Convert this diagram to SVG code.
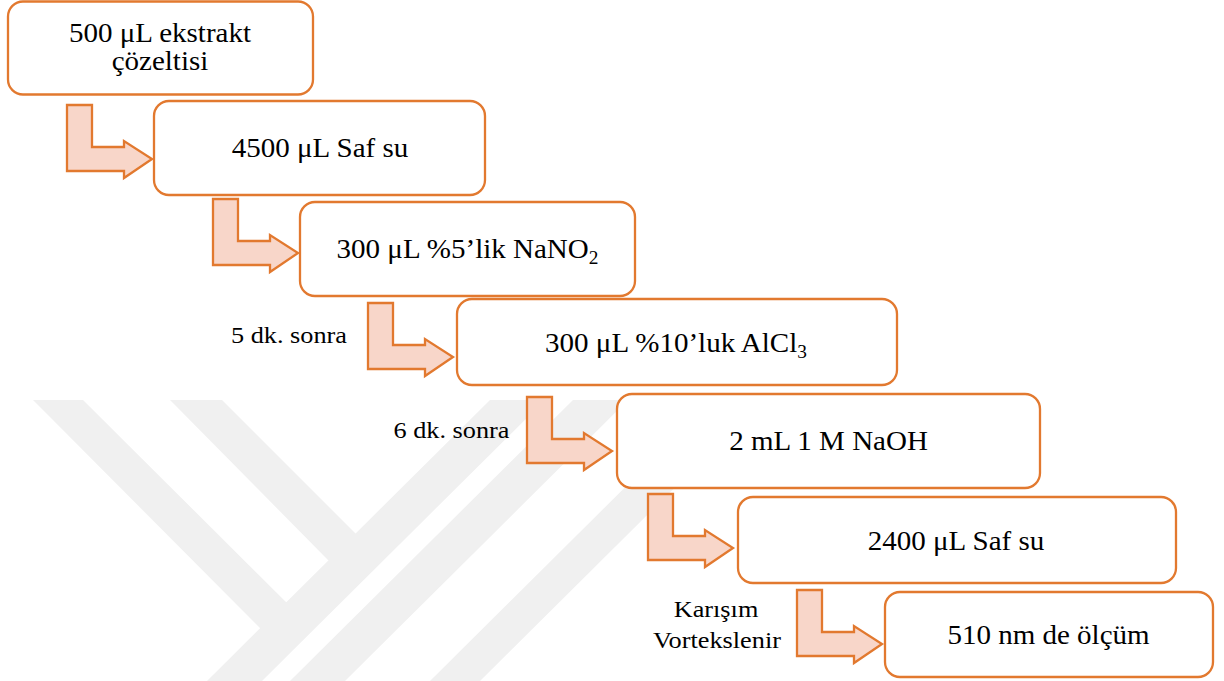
<svg xmlns="http://www.w3.org/2000/svg" width="1224" height="681" viewBox="0 0 1224 681">
  <style>
    .wm { fill: #f0f0f0; stroke: none; }
    .box { fill: #ffffff; stroke: #e2792f; stroke-width: 2.3; }
    .arrow { fill: #f8d6c9; stroke: #e2792f; stroke-width: 2.3; }
    .t { font-family: 'Liberation Serif', 'Times New Roman', serif; font-size: 27px; fill: #000000; text-anchor: middle; }
    .lbl { font-family: 'Liberation Serif', 'Times New Roman', serif; font-size: 24px; fill: #000000; text-anchor: middle; }
    .sub { font-size: 18px; }
  </style>
  <defs>
    <path id="bent" d="M0,0 H25 V42 H57 V36 L85,54 L57,73 V66 H0 Z"/>
  </defs>
  <rect x="0" y="0" width="1224" height="681" fill="#ffffff"/>

  <g id="watermark">
    <polygon class="wm" points="33,400 83,400 290,606 262,630"/>
    <polygon class="wm" points="170,400 222,400 360,538 330,562"/>
    <polygon class="wm" points="207,681 490,400 545,400 262,681"/>
    <polygon class="wm" points="290,681 573,400 628,400 345,681"/>
    <polygon class="wm" points="430,681 713,400 763,400 480,681"/>
  </g>

  <g id="connectors">
    <use href="#bent" class="arrow" transform="translate(67,105)"/>
    <use href="#bent" class="arrow" transform="translate(213,199)"/>
    <use href="#bent" class="arrow" transform="translate(368,303)"/>
    <use href="#bent" class="arrow" transform="translate(527,397)"/>
    <use href="#bent" class="arrow" transform="translate(648,494)"/>
    <use href="#bent" class="arrow" transform="translate(797,590)"/>
  </g>

  <g id="n1">
    <rect class="box" x="8" y="1.5" width="305" height="93" rx="15"/>
    <text class="t" transform="translate(160,42) scale(1.075,1)">500 μL ekstrakt</text>
    <text class="t" transform="translate(160,70) scale(1.075,1)">çözeltisi</text>
  </g>
  <g id="n2">
    <rect class="box" x="154" y="101" width="331" height="94" rx="15"/>
    <text class="t" transform="translate(320,157) scale(1.075,1)">4500 μL Saf su</text>
  </g>
  <g id="n3">
    <rect class="box" x="300" y="202" width="335" height="94" rx="15"/>
    <text class="t" transform="translate(467.5,258) scale(1.075,1)">300 μL %5’lik NaNO<tspan class="sub" dy="6">2</tspan></text>
  </g>
  <g id="n4">
    <rect class="box" x="457" y="299" width="440" height="86" rx="15"/>
    <text class="t" transform="translate(676,352) scale(1.075,1)">300 μL %10’luk AlCl<tspan class="sub" dy="6">3</tspan></text>
  </g>
  <g id="n5">
    <rect class="box" x="617" y="394" width="423" height="94" rx="15"/>
    <text class="t" transform="translate(828.5,450) scale(1.075,1)">2 mL 1 M NaOH</text>
  </g>
  <g id="n6">
    <rect class="box" x="738" y="497" width="438" height="86" rx="15"/>
    <text class="t" transform="translate(956,550) scale(1.075,1)">2400 μL Saf su</text>
  </g>
  <g id="n7">
    <rect class="box" x="885" y="592" width="328" height="85" rx="15"/>
    <text class="t" transform="translate(1048.5,644) scale(1.075,1)">510 nm de ölçüm</text>
  </g>

  <g id="labels">
    <text class="lbl" transform="translate(289,343) scale(1.095,1)">5 dk. sonra</text>
    <text class="lbl" transform="translate(451.5,438) scale(1.095,1)">6 dk. sonra</text>
    <text class="lbl" transform="translate(716,617) scale(1.095,1)">Karışım</text>
    <text class="lbl" transform="translate(717,648) scale(1.095,1)">Vortekslenir</text>
  </g>
</svg>
